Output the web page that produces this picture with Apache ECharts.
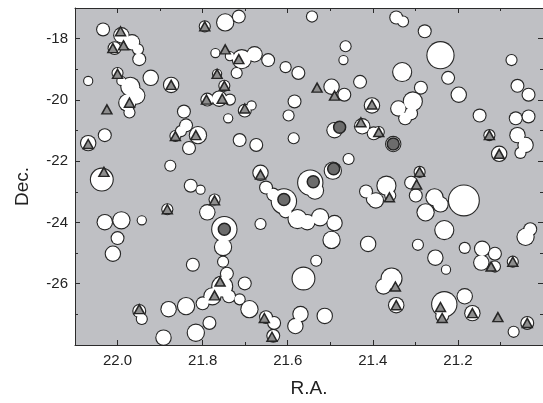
<!DOCTYPE html>
<html>
<head>
<meta charset="utf-8">
<script src="https://cdn.jsdelivr.net/npm/echarts@6/dist/echarts.min.js"></script>
<style>html,body{margin:0;padding:0;background:#fff}#c{width:543px;height:403px}</style>
</head>
<body>
<div id="c"></div>
<script>
// Axis tick labels
const raTicks = [22.0, 21.8, 21.6, 21.4, 21.2];
const decTicks = [-18, -20, -22, -24, -26];

// White regions: [R.A., Dec., radius in degrees]
const regions = [
[22.034,-17.70,.19],[21.991,-17.89,.23],[21.966,-18.12,.23],[21.952,-18.35,.16],[22.007,-18.31,.19],
[21.949,-18.67,.19],[22.069,-19.38,.13],[22.000,-19.12,.16],[21.970,-19.57,.29],[21.956,-19.86,.26],
[21.977,-20.09,.26],[21.972,-20.41,.16],[21.991,-19.38,.13],[21.922,-19.28,.23],[22.030,-21.15,.19],
[22.069,-21.41,.23],[22.037,-22.60,.35],[21.874,-19.51,.23],[21.795,-17.60,.16],[21.747,-17.47,.26],
[21.715,-17.28,.19],[21.770,-18.47,.13],[21.708,-18.67,.29],[21.678,-18.51,.23],[21.720,-19.12,.16],
[21.736,-18.57,.13],[21.646,-18.70,.19],[21.766,-19.15,.13],[21.749,-19.54,.16],[21.789,-19.99,.19],
[21.761,-19.96,.23],[21.736,-19.99,.16],[21.740,-20.60,.13],[21.701,-20.35,.19],[21.685,-20.18,.13],
[21.713,-21.31,.19],[21.674,-21.47,.19],[21.844,-20.38,.19],[21.839,-20.83,.19],[21.851,-21.02,.16],
[21.864,-21.18,.16],[21.811,-21.15,.26],[21.832,-21.57,.19],[21.876,-22.15,.16],[21.828,-22.80,.19],
[21.805,-22.93,.13],[21.664,-22.38,.23],[21.651,-22.86,.19],[21.634,-23.09,.19],[21.609,-23.31,.39],
[21.605,-23.64,.19],
[21.543,-17.28,.16],[21.345,-17.31,.19],[21.329,-17.44,.16],[21.278,-17.76,.19],[21.464,-18.25,.16],
[21.469,-18.70,.13],[21.241,-18.54,.42],[21.605,-18.93,.16],[21.575,-19.12,.19],[21.331,-19.09,.29],
[21.074,-18.70,.16],[21.223,-19.28,.19],[21.198,-19.83,.23],[21.060,-19.54,.19],[21.034,-19.83,.19],
[21.430,-19.41,.19],[21.287,-19.60,.19],[21.497,-19.57,.23],[21.467,-19.83,.19],[21.584,-20.05,.19],
[21.598,-20.51,.16],[21.402,-20.18,.23],[21.306,-20.05,.29],[21.340,-20.28,.23],[21.324,-20.60,.19],
[21.310,-20.44,.19],[21.149,-20.51,.19],[21.064,-20.60,.19],[21.034,-20.54,.19],[21.586,-21.25,.16],
[21.490,-20.99,.23],[21.425,-20.86,.23],[21.398,-21.09,.19],[21.386,-21.05,.16],[21.352,-21.44,.23],
[21.126,-21.15,.16],[21.103,-21.76,.23],[21.060,-21.15,.23],[21.041,-21.47,.23],[21.053,-21.73,.16],
[21.457,-21.93,.16],[21.494,-22.31,.26],[21.547,-22.70,.39],[21.536,-22.96,.26],[21.290,-22.35,.16],
[21.310,-22.70,.19],[21.368,-22.80,.29],[21.393,-23.28,.23],[21.359,-23.12,.16],[21.416,-22.99,.19],
[21.402,-23.25,.16],[21.299,-23.12,.19],[21.255,-23.18,.26],[21.241,-23.41,.23],[21.276,-23.67,.26],
[21.186,-23.28,.48],[21.232,-24.25,.29],[21.294,-24.73,.16],[21.184,-24.83,.16],[21.143,-24.86,.23],
[21.113,-25.02,.19],[21.145,-25.31,.23],[21.113,-25.44,.16],[21.071,-25.28,.16],[21.041,-24.47,.26],
[21.030,-24.22,.19],[21.411,-24.70,.23],[21.253,-25.15,.23],[21.228,-25.54,.13],
[21.772,-23.25,.16],[21.789,-23.67,.23],[21.883,-23.57,.16],[22.030,-23.99,.23],[21.991,-23.93,.26],
[21.943,-23.93,.13],[22.000,-24.51,.19],[22.011,-25.02,.23],[21.749,-24.22,.39],[21.664,-24.05,.16],
[21.752,-24.80,.26],[21.752,-25.28,.16],[21.823,-25.38,.19],[21.743,-25.67,.19],[21.754,-26.09,.32],
[21.777,-26.41,.26],[21.738,-26.41,.19],[21.800,-26.64,.19],[21.701,-25.99,.19],[21.713,-26.51,.16],
[21.690,-26.83,.26],[21.651,-27.09,.19],[21.632,-27.28,.19],[21.634,-27.70,.19],[21.949,-26.89,.19],
[21.943,-27.15,.16],[21.880,-26.83,.23],[21.839,-26.73,.26],[21.784,-27.28,.19],[21.816,-27.60,.26],
[21.892,-27.76,.23],[21.577,-23.89,.29],[21.524,-23.83,.26],[21.490,-24.02,.23],[21.554,-23.99,.23],
[21.497,-24.57,.26],[21.533,-25.25,.16],[21.563,-25.83,.35],[21.356,-25.83,.32],[21.375,-26.09,.23],
[21.345,-26.70,.23],[21.232,-26.67,.39],[21.237,-27.05,.19],[21.184,-26.41,.23],[21.166,-26.96,.23],
[21.037,-27.28,.19],[21.069,-27.57,.16],[21.570,-26.99,.23],[21.582,-27.38,.23],[21.513,-27.05,.23]
];

// Triangle sources: [R.A., Dec.]
const triangles = [
[21.993,-17.76],[21.986,-18.22],[22.011,-18.31],[22.000,-19.15],[21.972,-20.09],[22.025,-20.31],
[22.069,-21.44],[22.032,-22.35],[21.874,-19.51],[21.795,-17.60],[21.747,-18.35],[21.715,-18.67],
[21.766,-19.15],[21.749,-19.54],[21.791,-19.99],[21.754,-19.96],[21.701,-20.28],[21.864,-21.18],
[21.816,-21.15],[21.664,-22.44],[21.531,-19.60],[21.490,-19.86],[21.402,-20.15],[21.428,-20.73],
[21.386,-21.05],[21.126,-21.15],[21.103,-21.76],[21.290,-22.35],[21.297,-22.76],[21.361,-23.18],
[21.772,-23.28],[21.883,-23.57],[21.759,-25.93],[21.772,-26.38],[21.949,-26.83],[21.655,-27.12],
[21.637,-27.73],[21.347,-26.09],[21.345,-26.70],[21.241,-26.76],[21.237,-27.12],[21.166,-26.96],
[21.106,-27.09],[21.037,-27.28],[21.122,-25.44],[21.071,-25.28]
];

// Dark circle sources: [R.A., Dec.]
const darkCircles = [
[21.749,-24.22],[21.609,-23.25],[21.540,-22.67],[21.492,-22.25],[21.478,-20.89],[21.352,-21.44]
];

const W = 543, H = 403;
const G = {left: 75, top: 8, right: -10, bottom: 54};
const DEC_MIN = -28, DEC_MAX = -17;
const pxPerDeg = (H - G.top - G.bottom) / (DEC_MAX - DEC_MIN);
const FONT = 'Liberation Sans, Arial, sans-serif';

const chart = echarts.init(document.getElementById('c'), null, {renderer: 'canvas', width: W, height: H});

function xAx(pos, interval, len, labels, line) {
  return {
    type: 'value', min: 21.0, max: 22.1, inverse: true, interval: interval, position: pos,
    axisLine: {show: line, onZero: false, lineStyle: {color: '#2b2b2b', width: 1}},
    axisTick: {show: true, inside: true, length: len, lineStyle: {color: '#2b2b2b', width: 1}},
    axisLabel: labels ? {
      show: true, margin: 8, fontSize: 15, color: '#222', fontFamily: FONT,
      showMaxLabel: false, showMinLabel: false,
      formatter: v => raTicks.some(t => Math.abs(t - v) < 1e-6) ? v.toFixed(1) : ''
    } : {show: false},
    splitLine: {show: false}
  };
}
function yAx(pos, interval, len, labels, line) {
  return {
    type: 'value', min: DEC_MIN, max: DEC_MAX, interval: interval, position: pos,
    axisLine: {show: line, onZero: false, lineStyle: {color: '#2b2b2b', width: 1}},
    axisTick: {show: true, inside: true, length: len, lineStyle: {color: '#2b2b2b', width: 1}},
    axisLabel: labels ? {
      show: true, margin: 7, fontSize: 15, color: '#222', fontFamily: FONT,
      showMaxLabel: false, showMinLabel: false,
      formatter: v => decTicks.some(t => Math.abs(t - v) < 1e-6) ? String(v) : ''
    } : {show: false},
    splitLine: {show: false}
  };
}

const xMain = xAx('bottom', 0.2, 5, true, true);
xMain.name = 'R.A.'; xMain.nameLocation = 'middle'; xMain.nameGap = 34;
xMain.nameTextStyle = {fontSize: 19, color: '#222', fontFamily: FONT};
const yMain = yAx('left', 2, 5, true, true);
yMain.name = 'Dec.'; yMain.nameLocation = 'middle'; yMain.nameGap = 43;
yMain.nameTextStyle = {fontSize: 19, color: '#222', fontFamily: FONT, padding: [0, 20, 0, 0]};

chart.setOption({
  animation: false,
  backgroundColor: '#ffffff',
  grid: Object.assign({show: true, backgroundColor: '#bfc0c4', borderWidth: 0}, G),
  xAxis: [xMain, xAx('top', 0.2, 5, false, true), xAx('bottom', 0.1, 3, false, false), xAx('top', 0.1, 3, false, false)],
  yAxis: [yMain, yAx('right', 2, 5, false, true), yAx('left', 1, 3, false, false), yAx('right', 1, 3, false, false)],
  series: [
    {type: 'scatter', data: regions, symbol: 'circle', clip: true,
     symbolSize: v => v[2] * 2 * pxPerDeg + 2.2,
     itemStyle: {color: '#262626', opacity: 1}, silent: true},
    {type: 'scatter', data: regions, symbol: 'circle', clip: true,
     symbolSize: v => v[2] * 2 * pxPerDeg,
     itemStyle: {color: '#ffffff', opacity: 1}, silent: true},
    {type: 'scatter', data: triangles, symbol: 'triangle', symbolSize: [10, 9], clip: true,
     itemStyle: {color: '#8e8e8e', borderColor: '#262626', borderWidth: 1.5, opacity: 1}, silent: true},
    {type: 'scatter', data: darkCircles, symbol: 'circle', symbolSize: 12, clip: true,
     itemStyle: {color: '#6c6c6c', borderColor: '#222', borderWidth: 1.5, opacity: 1}, silent: true}
  ]
});
</script>
</body>
</html>
